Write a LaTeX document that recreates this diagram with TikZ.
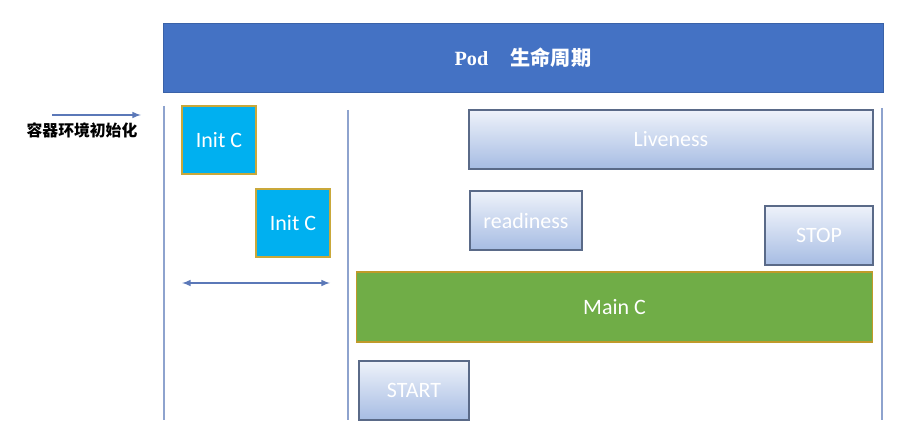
\documentclass[tikz,border=0pt]{standalone}
\usepackage{fontspec}
\setmainfont{Carlito}
\newfontfamily\cjk{Noto Sans CJK SC}
\newfontfamily\podfont{Liberation Serif}
\definecolor{podblue}{HTML}{4472C4}
\definecolor{podedge}{HTML}{3A62A8}
\definecolor{initcyan}{HTML}{00B0F0}
\definecolor{initedge}{HTML}{C9A83A}
\definecolor{maingreen}{HTML}{70AD47}
\definecolor{mainedge}{HTML}{C09A2A}
\definecolor{probetop}{HTML}{EEF2FA}
\definecolor{probebot}{HTML}{A6BCE3}
\definecolor{probeedge}{HTML}{5A6A88}
\definecolor{lanecol}{HTML}{8EA3CE}
\definecolor{flowcol}{HTML}{5B78B8}
\begin{document}
\begin{tikzpicture}[x=0.02cm,y=-0.02cm,
  boxtext/.style={text=white,inner sep=0pt,font=\fontsize{12.5}{14}\selectfont},
  initbox/.style={boxtext,draw=initedge,line width=0.6pt,fill=initcyan,minimum width=1.48cm,minimum height=1.36cm},
  probebox/.style={boxtext,draw=probeedge,line width=0.8pt,top color=probetop,bottom color=probebot,minimum height=1.18cm},
  lane/.style={draw=lanecol,line width=0.7pt},
  flow/.style={draw=flowcol,line width=0.7pt,-latex}]
\useasboundingbox (0,0) rectangle (903,435);
\begin{scope}
% title bar
\node[draw=podedge,fill=podblue,text=white,minimum width=14.4cm,minimum height=1.38cm] (pod) at (523,57.5)
  {\bfseries\fontsize{11.5}{14}\selectfont\podfont Pod\hspace{1.1em}\cjk 生命周期};
% lanes
\draw[lane] (164,106) -- (164,420);
\draw[lane] (348,110) -- (348,420);
\draw[lane] (882,108) -- (882,420);
% init containers
\node[initbox] (init1) at (219,140) {Init C};
\node[initbox] (init2) at (293,223) {Init C};
\coordinate (initL) at (182,283);
\coordinate (initR) at (330,283);
\draw[flow,latex-latex] (initL) -- (initR);
% environment
\node[font=\cjk\bfseries\fontsize{9}{11}\selectfont,inner sep=0pt] (env) at (82,130) {容器环境初始化};
\coordinate (envL) at (52,115);
\coordinate (envR) at (141,115);
\draw[flow] (envL) -- (envR);
% main container and probes
\node[probebox,minimum width=8.08cm] (live) at (671,139.5) {Liveness};
\node[probebox,minimum width=2.24cm] (ready) at (526,220.5) {readiness};
\node[probebox,minimum width=2.16cm] (stop) at (819,235.5) {STOP};
\node[boxtext,draw=mainedge,line width=0.6pt,fill=maingreen,minimum width=10.34cm,minimum height=1.4cm] (main) at (614.5,307) {Main C};
\node[probebox,minimum width=2.2cm] (start) at (414,390.5) {START};
\end{scope}
\end{tikzpicture}
\end{document}
